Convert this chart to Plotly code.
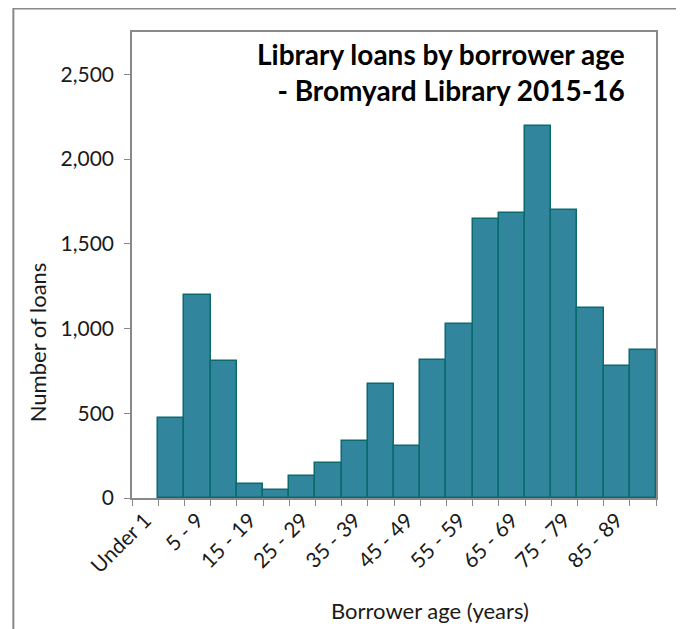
import plotly.graph_objects as go

# loans by age band
categories = ["Under 1", "1 - 4", "5 - 9", "10 - 14", "15 - 19", "20 - 24",
              "25 - 29", "30 - 34", "35 - 39", "40 - 44", "45 - 49", "50 - 54",
              "55 - 59", "60 - 64", "65 - 69", "70 - 74", "75 - 79", "80 - 84",
              "85 - 89", "90+"]
loans = [0, 470, 1200, 810, 83, 47, 132, 204, 338, 675, 305, 817,
         1024, 1644, 1681, 2195, 1697, 1124, 777, 875]
y_ticks = [0, 500, 1000, 1500, 2000, 2500]

# only every other label is shown
tick_text = [c if i % 2 == 0 else "" for i, c in enumerate(categories)]

FONT = "Lato"
GREY = "#898989"

fig = go.Figure()
fig.add_trace(go.Bar(
    x=categories,
    y=loans,
    marker=dict(color="#31859C",
                line=dict(color="#0B6A6C",
                          width=[0 if v == 0 else 1.5 for v in loans])),
))

# page body adds an 8px offset, so the figure is shrunk to fit the window
fig.update_layout(
    width=676, height=621,
    margin=dict(l=124, r=28, t=24, b=131),
    paper_bgcolor="white", plot_bgcolor="white",
    bargap=0,
    showlegend=False,
    font=dict(family=FONT, size=21, color="#1a1a1a"),
)

fig.update_xaxes(
    type="category",
    tickmode="array", tickvals=categories, ticktext=tick_text,
    tickson="boundaries", ticks="outside", ticklen=6, tickcolor=GREY,
    tickangle=-45,
    showline=True, linecolor=GREY, linewidth=1.5, mirror=True,
    showgrid=False,
)
fig.update_yaxes(
    range=[0, 2750], tickvals=y_ticks, tickformat=",",
    ticks="outside", ticklen=6, tickcolor=GREY,
    ticklabelstandoff=6,
    showline=True, linecolor=GREY, linewidth=1.5, mirror=True,
    showgrid=False, zeroline=False,
)

# title, axis titles
fig.add_annotation(
    text="<b>Library loans by borrower age<br>- Bromyard Library 2015-16</b>",
    xref="paper", yref="paper", x=0.9447, y=0.914,
    xanchor="right", yanchor="middle", align="right",
    showarrow=False, font=dict(family=FONT, size=28, color="black"),
)
fig.add_annotation(
    text="Borrower age (years)", xref="paper", yref="paper",
    x=0.569, y=-0.242, xanchor="center", yanchor="middle",
    showarrow=False, font=dict(family=FONT, size=22),
)
fig.add_annotation(
    text="Number of loans", xref="paper", yref="paper",
    x=-0.1787, y=0.335, xanchor="center", yanchor="middle", textangle=-90,
    showarrow=False, font=dict(family=FONT, size=22),
)

# outer chart border
fig.add_shape(
    type="rect", xref="paper", yref="paper",
    x0=-0.2264, x1=1.0496, y0=-0.35, y1=1.0505,
    line=dict(color=GREY, width=2),
)

fig.write_html("out.html")
